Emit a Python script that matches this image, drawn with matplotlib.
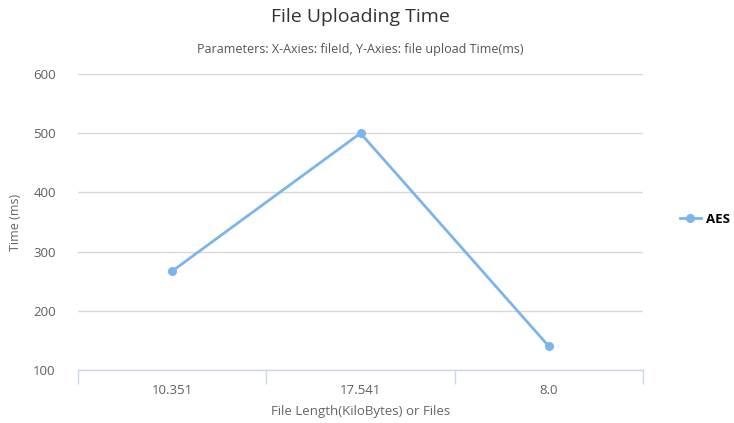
import matplotlib
matplotlib.use("Agg")
import matplotlib.pyplot as plt
from matplotlib.lines import Line2D

# chart data
categories = ["10.351", "17.541", "8.0"]
aes_times = [267, 500, 140]
y_ticks = [100, 200, 300, 400, 500, 600]

plt.rcParams['font.family'] = ['Open Sans', 'DejaVu Sans']

fig = plt.figure(figsize=(7.34, 4.23), dpi=100)
ax = fig.add_axes([78 / 734, 1 - 370 / 423, 565 / 734, 296 / 423])

xs = list(range(len(categories)))
ax.plot(xs, aes_times, color='#7cb5ec', linewidth=2, marker='o', markersize=5.5,
        zorder=3, clip_on=False)

ax.set_xlim(-0.5, len(categories) - 0.5)
ax.set_ylim(100, 600)
ax.set_yticks(y_ticks)
ax.set_xticks(xs)
ax.set_xticklabels(categories)
ax.set_xticks([i - 0.5 for i in range(len(categories) + 1)], minor=True)

ax.grid(axis='y', color='#d8d8d8', linewidth=1)
ax.set_axisbelow(True)
for s in ['top', 'right', 'left']:
    ax.spines[s].set_visible(False)
ax.spines['bottom'].set_color('#ccd6eb')
ax.spines['bottom'].set_linewidth(1)

ax.tick_params(axis='y', length=0, pad=16, labelsize=9.5, labelcolor='#606060')
ax.tick_params(axis='x', which='major', length=0, pad=10, labelsize=9.5, labelcolor='#606060')
ax.tick_params(axis='x', which='minor', length=10, color='#ccd6eb', width=1)

ax.set_ylabel('Time (ms)', fontsize=9, color='#666666', labelpad=8)
ax.set_xlabel('File Length(KiloBytes) or Files', fontsize=9.5, color='#666666', labelpad=6)

fig.text(ax.get_position().x0 + ax.get_position().width / 2, 1 - 17 / 423,
         'File Uploading Time', ha='center', va='center', fontsize=14, color='#333333')
fig.text(ax.get_position().x0 + ax.get_position().width / 2, 1 - 49 / 423,
         'Parameters: X-Axies: fileId, Y-Axies: file upload Time(ms)',
         ha='center', va='center', fontsize=9, color='#555555')

# legend
handle = Line2D([0], [0], color='#7cb5ec', linewidth=2, marker='o', markersize=5.5)
fig.legend([handle], ['AES'], loc='center left', bbox_to_anchor=(668 / 734, 1 - 219 / 423),
           frameon=False, handlelength=1.6, handletextpad=0.4,
           prop={'weight': 'bold', 'size': 9.5})

fig.savefig('out.png', dpi=100)
